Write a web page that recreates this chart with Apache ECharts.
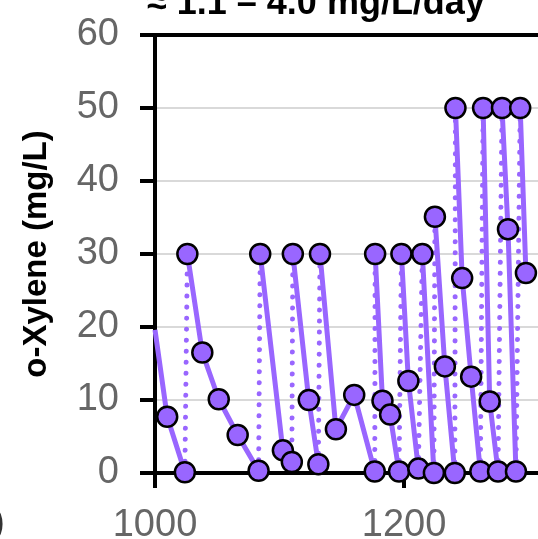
<!DOCTYPE html>
<html>
<head>
<meta charset="utf-8">
<script src="https://cdn.jsdelivr.net/npm/echarts@6/dist/echarts.min.js"></script>
<style>
  html, body { margin: 0; padding: 0; background: #fff; }
  #chart { width: 538px; height: 539px; }
</style>
</head>
<body>
<div id="chart"></div>
<script>
// time (days) and o-xylene concentration (mg/L)
const days = [1000, 1009.8, 1024, 1026, 1038, 1051.2, 1066.4, 1083.2, 1084.5, 1102.7, 1109.9,
  1110.7, 1123.5, 1131.2, 1132.5, 1145.3, 1160, 1176.5, 1176.8, 1182.7, 1188.8, 1196,
  1197.9, 1203.5, 1211.5, 1214.7, 1224, 1224.8, 1232.8, 1240.8, 1241.3, 1246.7, 1253.9,
  1261.3, 1263.5, 1268.8, 1275.5, 1278.7, 1283.5, 1289.9, 1293.3, 1297.9];
const oXylene = [19.6, 7.7, 0.1, 30, 16.5, 10.1, 5.2, 0.3, 30, 3.1, 1.5,
  30, 10, 1.2, 30, 6, 10.7, 0.2, 30, 9.9, 8, 0.2,
  30, 12.6, 0.6, 30, 0, 35.1, 14.6, 0, 50, 26.7, 13.2,
  0.2, 50, 9.8, 0.2, 50, 33.4, 0.2, 50, 27.4];
// indices where the bottle was re-spiked (dotted jump from previous point)
const respikeIdx = [3, 8, 11, 14, 18, 22, 25, 27, 30, 34, 37, 40];

const yTicks = [0, 10, 20, 30, 40, 50, 60];
const xTicks = [1000, 1200];

const purple = '#9966ff';
const labelFont = 'Liberation Sans, Arial, sans-serif';

// solid decay segments, broken at every re-spike
const solidData = [];
days.forEach((d, i) => {
  if (respikeIdx.includes(i)) solidData.push(['-', '-']);
  const item = { value: [d, oXylene[i]] };
  if (i === 0) item.symbol = 'none'; // line enters from the left edge
  solidData.push(item);
});

// dotted re-spike jumps
const spikeData = [];
respikeIdx.forEach(i => {
  spikeData.push([days[i - 1], oXylene[i - 1]]);
  spikeData.push([days[i], oXylene[i]]);
  spikeData.push(['-', '-']);
});

const chart = echarts.init(document.getElementById('chart'));

const option = {
  animation: false,
  textStyle: { fontFamily: labelFont },
  grid: { left: 155, top: 35, right: 0, bottom: 66, outerBoundsMode: 'none' },
  graphic: [
    {
      type: 'text',
      left: 147,
      top: -14,
      style: {
        text: '≈ 1.1 – 4.0 mg/L/day',
        fontFamily: labelFont,
        fontWeight: 'bold',
        fontSize: 36,
        fill: '#000'
      }
    },
    {
      type: 'text',
      right: 533,
      top: 505,
      style: { text: ')', fontFamily: labelFont, fontSize: 38, fill: '#333' }
    }
  ],
  xAxis: [
    {
      type: 'value',
      min: 1000,
      max: 1307.6,
      interval: xTicks[1] - xTicks[0],
      axisLine: { lineStyle: { color: '#000', width: 4 } },
      axisTick: { length: 15, lineStyle: { color: '#000', width: 4 } },
      axisLabel: {
        color: '#666',
        fontSize: 38,
        margin: 34,
        showMaxLabel: false,
        formatter: v => (xTicks.includes(v) ? String(v) : '')
      },
      splitLine: { show: false }
    },
    {
      // black frame line along the top
      type: 'value',
      position: 'top',
      min: 1000,
      max: 1307.6,
      axisLine: { lineStyle: { color: '#000', width: 4 } },
      axisTick: { show: false },
      axisLabel: { show: false },
      splitLine: { show: false }
    }
  ],
  yAxis: {
    type: 'value',
    min: yTicks[0],
    max: yTicks[yTicks.length - 1],
    interval: 10,
    name: 'o-Xylene (mg/L)',
    nameLocation: 'middle',
    nameGap: 102,
    nameTextStyle: { fontSize: 33, fontWeight: 'bold', color: '#000', fontFamily: labelFont },
    axisLine: { show: true, lineStyle: { color: '#000', width: 4 } },
    axisTick: { show: true, length: 15, lineStyle: { color: '#000', width: 4 } },
    axisLabel: { color: '#666', fontSize: 38, margin: 36 },
    splitLine: { show: true, lineStyle: { color: '#d9d9d9', width: 2 } }
  },
  series: [
    {
      type: 'line',
      data: spikeData,
      connectNulls: false,
      symbol: 'none',
      z: 2,
      lineStyle: { color: purple, width: 5, type: [0.01, 11], cap: 'round' }
    },
    {
      type: 'line',
      data: solidData,
      connectNulls: false,
      symbol: 'circle',
      symbolSize: 20,
      z: 3,
      lineStyle: { color: purple, width: 5 },
      itemStyle: { color: purple, borderColor: '#000', borderWidth: 2.5 }
    }
  ]
};

chart.setOption(option);
</script>
</body>
</html>
